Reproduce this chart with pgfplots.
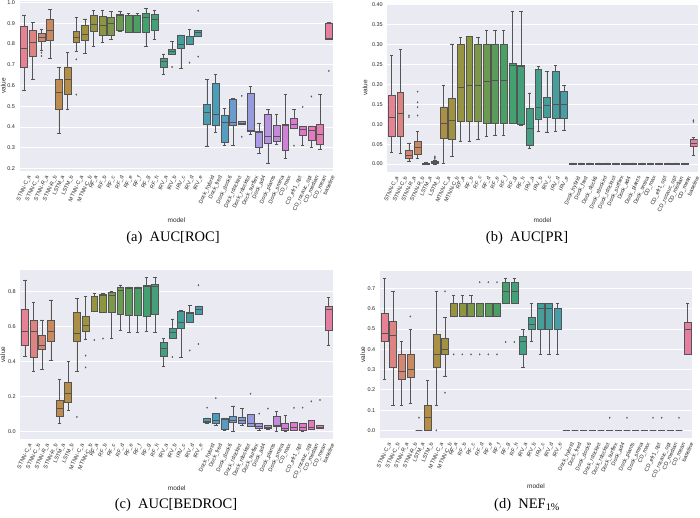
\documentclass[border=0pt]{standalone}
\usepackage{fontspec}
\setmainfont{Liberation Sans}
\newfontfamily\capfont{Liberation Serif}
\usepackage{pgfplots}
\usepackage{pgfplotstable}
\usepgfplotslibrary{statistics}
\pgfplotsset{compat=1.18}

% seaborn husl anchors, desaturated to 0.75
\definecolor{h0}{RGB}{230,130,148}
\definecolor{h1}{RGB}{187,140,69}
\definecolor{h2}{RGB}{140,150,63}
\definecolor{h3}{RGB}{66,161,105}
\definecolor{h4}{RGB}{69,158,151}
\definecolor{h5}{RGB}{76,158,189}
\definecolor{h6}{RGB}{171,153,231}
\definecolor{h7}{RGB}{227,116,209}
\colorlet{c0}{h0}        \colorlet{c1}{h0!78!h1}  \colorlet{c2}{h0!56!h1}  \colorlet{c3}{h0!33!h1}
\colorlet{c4}{h0!11!h1}  \colorlet{c5}{h1!89!h2}  \colorlet{c6}{h1!67!h2}  \colorlet{c7}{h1!44!h2}
\colorlet{c8}{h1!22!h2}  \colorlet{c9}{h2}        \colorlet{c10}{h2!78!h3} \colorlet{c11}{h2!56!h3}
\colorlet{c12}{h2!33!h3} \colorlet{c13}{h2!11!h3} \colorlet{c14}{h3!89!h4} \colorlet{c15}{h3!67!h4}
\colorlet{c16}{h3!44!h4} \colorlet{c17}{h3!22!h4} \colorlet{c18}{h4}       \colorlet{c19}{h4!78!h5}
\colorlet{c20}{h4!56!h5} \colorlet{c21}{h4!33!h5} \colorlet{c22}{h4!11!h5} \colorlet{c23}{h5!89!h6}
\colorlet{c24}{h5!67!h6} \colorlet{c25}{h5!44!h6} \colorlet{c26}{h5!22!h6} \colorlet{c27}{h6}
\colorlet{c28}{h6!78!h7} \colorlet{c29}{h6!56!h7} \colorlet{c30}{h6!33!h7} \colorlet{c31}{h6!11!h7}
\colorlet{c32}{h7!89!h0} \colorlet{c33}{h7!67!h0} \colorlet{c34}{h7!44!h0} \colorlet{c35}{h7!22!h0}
\definecolor{bgc}{RGB}{234,234,242}
\definecolor{lc}{gray}{0.33}
\definecolor{tc}{RGB}{38,38,38}

\newcommand\rl[1]{\rotatebox{65}{#1}}

% box statistics: lw lq med uq uw, one row per model
\pgfplotstableread{
lw lq med uq uw
0.578 0.686 0.780 0.884 0.940
0.630 0.742 0.810 0.868 0.903
0.768 0.812 0.833 0.849 0.871
0.730 0.816 0.868 0.920 0.965
0.369 0.485 0.568 0.631 0.688
0.485 0.559 0.631 0.686 0.760
0.763 0.808 0.833 0.860 0.929
0.755 0.816 0.847 0.889 0.921
0.790 0.863 0.895 0.936 0.961
0.808 0.840 0.892 0.932 0.961
0.823 0.842 0.900 0.928 0.957
0.862 0.866 0.937 0.945 0.957
0.855 0.855 0.936 0.937 0.948
0.855 0.855 0.936 0.939 0.948
0.790 0.855 0.930 0.948 0.973
0.823 0.868 0.921 0.945 0.961
0.655 0.686 0.718 0.731 0.752
0.750 0.750 0.767 0.776 0.812
0.683 0.780 0.800 0.840 0.844
0.800 0.800 0.836 0.839 0.871
0.839 0.839 0.857 0.865 0.865
0.309 0.415 0.470 0.507 0.630
0.374 0.406 0.460 0.610 0.652
0.311 0.325 0.424 0.454 0.490
0.311 0.409 0.422 0.535 0.538
0.415 0.415 0.420 0.427 0.427
0.364 0.377 0.383 0.562 0.596
0.274 0.303 0.372 0.378 0.420
0.227 0.320 0.356 0.459 0.485
0.317 0.333 0.356 0.407 0.459
0.248 0.287 0.409 0.415 0.557
0.393 0.393 0.414 0.440 0.485
0.310 0.362 0.388 0.404 0.404
0.300 0.338 0.385 0.405 0.405
0.293 0.315 0.365 0.413 0.556
0.822 0.822 0.825 0.898 0.905
}\tA
\pgfplotstableread{
x y
2 0.758
2 0.742
6 0.726
6 0.556
17 0.689
19 0.710
20 0.960
20 0.739
25 0.550
25 0.353
31 0.310
32 0.497
33 0.547
35 0.670
}\oA

\pgfplotstableread{
lw lq med uq uw
0.029 0.069 0.117 0.172 0.274
0.027 0.070 0.127 0.181 0.289
0.008 0.014 0.0225 0.035 0.053
0.014 0.025 0.042 0.058 0.083
0 0.0005 0.001 0.002 0.005
0 0.002 0.004 0.007 0.010
0.002 0.064 0.103 0.142 0.199
0.020 0.062 0.110 0.164 0.302
0.058 0.108 0.194 0.302 0.318
0.058 0.108 0.197 0.320 0.321
0.062 0.108 0.197 0.300 0.318
0.070 0.103 0.207 0.302 0.335
0.072 0.103 0.210 0.300 0.335
0.072 0.103 0.210 0.300 0.335
0.102 0.102 0.247 0.253 0.383
0.097 0.100 0.246 0.249 0.383
0.039 0.046 0.089 0.139 0.179
0.083 0.112 0.142 0.238 0.245
0.081 0.118 0.148 0.168 0.232
0.083 0.114 0.150 0.233 0.247
0.085 0.114 0.149 0.183 0.197
0 0.0005 0.001 0.0015 0.003
0 0.0005 0.001 0.0015 0.003
0 0.0005 0.001 0.0015 0.003
0 0.0005 0.001 0.0015 0.003
0 0.0005 0.001 0.0015 0.003
0 0.0005 0.001 0.0015 0.003
0 0.0005 0.001 0.0015 0.003
0 0.0005 0.001 0.0015 0.003
0 0.0005 0.001 0.0015 0.003
0 0.0005 0.001 0.0015 0.003
0 0.0005 0.001 0.0015 0.003
0 0.0005 0.001 0.0015 0.003
0 0.0005 0.001 0.0015 0.003
0 0.0005 0.001 0.0015 0.003
0.021 0.045 0.053 0.063 0.066
}\tB
\pgfplotstableread{
x y
2 0.122
2 0.118
3 0.182
3 0.155
3 0.143
3 0.122
5 0.013
5 0.016
5 0.019
35 0.110
35 0.106
}\oB

\pgfplotstableread{
lw lq med uq uw
0.430 0.493 0.573 0.700 0.868
0.347 0.428 0.573 0.637 0.739
0.356 0.470 0.497 0.554 0.640
0.408 0.516 0.574 0.640 0.754
0.049 0.089 0.133 0.180 0.301
0.121 0.171 0.222 0.282 0.402
0.347 0.519 0.565 0.686 0.762
0.531 0.576 0.610 0.658 0.773
0.690 0.690 0.775 0.777 0.792
0.686 0.686 0.783 0.787 0.792
0.533 0.686 0.783 0.800 0.803
0.582 0.673 0.808 0.825 0.840
0.569 0.667 0.820 0.825 0.828
0.569 0.667 0.820 0.825 0.828
0.573 0.663 0.830 0.838 0.882
0.569 0.673 0.830 0.844 0.882
0.375 0.430 0.478 0.512 0.536
0.535 0.535 0.569 0.591 0.645
0.425 0.593 0.626 0.690 0.692
0.624 0.624 0.679 0.686 0.724
0.673 0.673 0.700 0.718 0.720
0.047 0.053 0.063 0.080 0.080
0.038 0.047 0.068 0.104 0.104
0.010 0.012 0.074 0.078 0.080
0.004 0.053 0.066 0.091 0.148
0.038 0.051 0.068 0.085 0.133
0.034 0.034 0.047 0.100 0.100
0.006 0.023 0.034 0.047 0.047
0.013 0.019 0.028 0.038 0.038
0.004 0.032 0.038 0.091 0.118
0.004 0.008 0.019 0.047 0.095
0.009 0.009 0.027 0.053 0.053
0.004 0.009 0.027 0.047 0.047
0.013 0.013 0.025 0.066 0.066
0.019 0.019 0.025 0.038 0.038
0.497 0.578 0.700 0.720 0.768
}\tC
\pgfplotstableread{
x y
6 0.085
7 0.436
7 0.368
8 0.525
9 0.533
17 0.428
19 0.465
20 0.838
20 0.502
21 0.138
22 0.193
26 0.218
27 0.104
28 0.133
31 0.137
32 0.138
33 0.174
34 0.182
}\oC

\pgfplotstableread{
lw lq med uq uw
0.250 0.438 0.481 0.579 0.749
0.125 0.311 0.467 0.540 0.686
0.125 0.250 0.290 0.373 0.441
0.133 0.263 0.300 0.373 0.500
0 0 0 0 0
0 0 0.0625 0.123 0.248
0.125 0.311 0.373 0.473 0.686
0.269 0.373 0.400 0.452 0.559
0.5625 0.5625 0.5625 0.625 0.666
0.5625 0.5625 0.5625 0.625 0.666
0.5625 0.5625 0.5625 0.625 0.666
0.5625 0.5625 0.5625 0.625 0.625
0.5625 0.5625 0.5625 0.625 0.625
0.5625 0.5625 0.5625 0.625 0.625
0.625 0.625 0.6875 0.729 0.749
0.625 0.625 0.6875 0.729 0.749
0.311 0.373 0.438 0.462 0.500
0.438 0.500 0.525 0.559 0.627
0.375 0.500 0.600 0.625 0.625
0.375 0.500 0.600 0.625 0.625
0.375 0.500 0.600 0.600 0.625
0 0 0 0 0
0 0 0 0 0
0 0 0 0 0
0 0 0 0 0
0 0 0 0 0
0 0 0 0 0
0 0 0 0 0
0 0 0 0 0
0 0 0 0 0
0 0 0 0 0
0 0 0 0 0
0 0 0 0 0
0 0 0 0 0
0 0 0 0 0
0.375 0.375 0.500 0.535 0.627
}\tD
\pgfplotstableread{
x y
3 0.562
4 0.063
6 0.0
7 0.686
7 0.186
8 0.375
9 0.375
10 0.375
11 0.375
12 0.375
13 0.375
11 0.731
12 0.731
13 0.731
14 0.436
15 0.436
26 0.0625
28 0.0625
31 0.0625
32 0.0625
34 0.0625
}\oD

\pgfplotsset{
  sb/.style={
    scale only axis, xmin=-0.5, xmax=35.5,
    axis background/.style={fill=bgc},
    axis line style={draw=none},
    major tick length=0pt,
    ymajorgrids, grid style={white, line width=0.8pt},
    xtick={0,...,35},
    xticklabels={\rl{STNN-C\_a},\rl{STNN-C\_b},\rl{STNN-R\_a},\rl{STNN-R\_b},\rl{LSTM\_a},\rl{LSTM\_b},
      \rl{MTNN-C\_a},\rl{MTNN-C\_b},\rl{RF\_a},\rl{RF\_b},\rl{RF\_c},\rl{RF\_d},\rl{RF\_e},\rl{RF\_f},
      \rl{RF\_g},\rl{RF\_h},\rl{IRV\_a},\rl{IRV\_b},\rl{IRV\_c},\rl{IRV\_d},\rl{IRV\_e},
      \rl{Dock\_hybrid},\rl{Dock\_fred},\rl{Dock\_dock6},\rl{Dock\_rdockint},\rl{Dock\_rdocktot},
      \rl{Dock\_surflex},\rl{Dock\_ad4},\rl{Dock\_plants},\rl{Dock\_smina},\rl{CD\_max},
      \rl{CD\_efr1\_opt},\rl{CD\_rocauc\_opt},\rl{CD\_median},\rl{CD\_mean},\rl{baseline}},
    xticklabel style={anchor=north, inner sep=0pt, yshift=-4pt, font=\fontsize{5.5}{6}\selectfont, text=tc},
    yticklabel style={anchor=east, inner sep=0pt, xshift=-4.5pt, font=\fontsize{5.5}{6}\selectfont, text=tc},
    /pgf/number format/.cd, fixed, fixed zerofill, assume math mode=true, /pgfplots/.cd,
    xlabel={model}, ylabel={value},
    every axis x label/.style={at={(axis description cs:0.5,-0.29)}, anchor=center,
      font=\fontsize{6.5}{7}\selectfont, text=tc},
  },
  yl/.style={every axis y label/.style={at={(axis description cs:#1,0.5)}, rotate=90, anchor=center,
      font=\fontsize{6.5}{7}\selectfont, text=tc}},
  bp/.style={draw=lc, line width=0.6pt, mark=none, boxplot/draw direction=y,
    boxplot/box extend=0.8, boxplot/whisker extend=0.4},
  fl/.style={only marks, mark=diamond*, mark size=0.8pt, mark options={fill=lc, draw=lc, line width=0.2pt}},
}

% one box per table row; values are expanded into each \addplot
\newcommand\boxes[2]{%
  \pgfplotsinvokeforeach{0,...,35}{
    \pgfplotstablegetelem{##1}{lw}\of{#1}\let\vlw\pgfplotsretval
    \pgfplotstablegetelem{##1}{lq}\of{#1}\let\vlq\pgfplotsretval
    \pgfplotstablegetelem{##1}{med}\of{#1}\let\vmed\pgfplotsretval
    \pgfplotstablegetelem{##1}{uq}\of{#1}\let\vuq\pgfplotsretval
    \pgfplotstablegetelem{##1}{uw}\of{#1}\let\vuw\pgfplotsretval
    \edef\tmp{\noexpand\addplot[bp, fill=c##1, boxplot prepared={draw position=##1,
      lower whisker=\vlw, lower quartile=\vlq, median=\vmed,
      upper quartile=\vuq, upper whisker=\vuw}] coordinates {};}
    \tmp
  }
  \addplot[fl] table[x=x, y=y] {#2};
}

\begin{document}
\begin{tikzpicture}
\useasboundingbox (0,0) rectangle (700pt,518pt);

\begin{axis}[sb, yl=-0.052, at={(19.7pt,347pt)}, anchor=south west, width=313.5pt, height=170pt,
  ymin=0.188, ymax=1.007, ytick={0.2,0.3,0.4,0.5,0.6,0.7,0.8,0.9,1.0},
  yticklabel style={/pgf/number format/precision=1}]
\boxes{\tA}{\oA}
\end{axis}

\begin{axis}[sb, yl=-0.072, at={(387.4pt,346.4pt)}, anchor=south west, width=310.3pt, height=167.5pt,
  ymin=-0.019, ymax=0.402, ytick={0,0.05,0.1,0.15,0.2,0.25,0.3,0.35,0.4},
  yticklabel style={/pgf/number format/precision=2}]
\boxes{\tB}{\oB}
\end{axis}

\begin{axis}[sb, yl=-0.057, at={(20.5pt,79pt)}, anchor=south west, width=312.5pt, height=169pt,
  ymin=-0.041, ymax=0.925, ytick={0,0.2,0.4,0.6,0.8},
  yticklabel style={/pgf/number format/precision=1}]
\boxes{\tC}{\oC}
\end{axis}

\begin{axis}[sb, yl=-0.055, at={(380pt,80pt)}, anchor=south west, width=312pt, height=167pt,
  ymin=-0.0375, ymax=0.7865, ytick={0,0.1,0.2,0.3,0.4,0.5,0.6,0.7},
  yticklabel style={/pgf/number format/precision=1}]
\boxes{\tD}{\oD}
\end{axis}

\node at (173pt,280pt) {\capfont\fontsize{14.5}{16}\selectfont (a)\hspace{0.5em}AUC[ROC]};
\node at (527pt,280pt) {\capfont\fontsize{14.5}{16}\selectfont (b)\hspace{0.5em}AUC[PR]};
\node at (176pt,13pt) {\capfont\fontsize{14.5}{16}\selectfont (c)\hspace{0.5em}AUC[BEDROC]};
\node at (527pt,13pt) {\capfont\fontsize{14.5}{16}\selectfont (d)\hspace{0.5em}NEF\textsubscript{1\%}};
\end{tikzpicture}
\end{document}
